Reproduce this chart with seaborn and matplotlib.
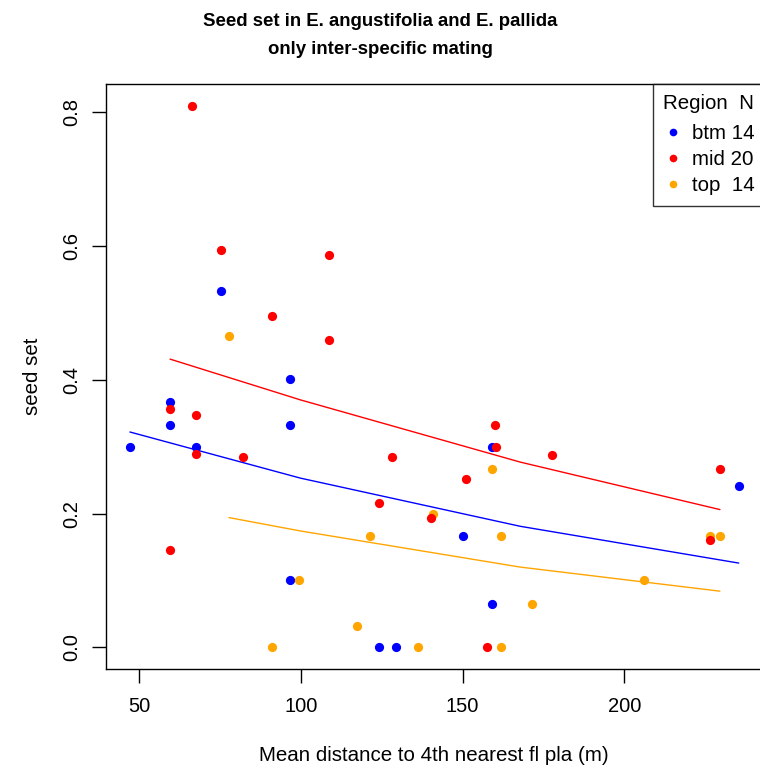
import numpy as np
import pandas as pd
import matplotlib
matplotlib.use("Agg")
import matplotlib.pyplot as plt
from matplotlib.lines import Line2D
import seaborn as sns

# ---- data ----
btm_x = [75.4, 96.6, 59.7, 59.7, 96.6, 47.2, 67.5, 96.6, 159.0, 150.1, 159.0, 124.2, 129.4, 235.3]
btm_y = [0.533, 0.402, 0.367, 0.332, 0.332, 0.300, 0.300, 0.100, 0.300, 0.166, 0.065, 0.0, 0.0, 0.241]

mid_x = [66.5, 75.4, 91.0, 108.6, 108.6, 59.7, 67.5, 67.5, 82.1, 59.7,
         160.0, 160.2, 128.3, 151.1, 124.2, 140.2, 157.4, 177.7, 229.5, 226.5]
mid_y = [0.810, 0.594, 0.496, 0.586, 0.460, 0.357, 0.347, 0.289, 0.284, 0.146,
         0.332, 0.300, 0.284, 0.252, 0.216, 0.194, 0.0, 0.287, 0.267, 0.161]

top_x = [77.9, 99.3, 91.0, 159.0, 140.9, 121.5, 162.0, 117.4, 136.1, 162.0, 226.5, 229.5, 206.1, 171.5]
top_y = [0.465, 0.100, 0.0, 0.267, 0.200, 0.166, 0.166, 0.032, 0.0, 0.0, 0.167, 0.166, 0.101, 0.065]

# fitted curves (read at a few x positions)
fit_btm_x = [47.2, 99.9, 167.8, 235.3]
fit_btm_y = [0.322, 0.253, 0.181, 0.126]
fit_mid_x = [59.6, 99.9, 167.8, 229.5]
fit_mid_y = [0.431, 0.370, 0.277, 0.206]
fit_top_x = [77.8, 99.9, 167.8, 229.5]
fit_top_y = [0.194, 0.174, 0.120, 0.084]

regions = ["btm", "mid", "top"]
counts = [14, 20, 14]
legend_labels = ["btm 14", "mid 20", "top  14"]
colors = {"btm": "#0000FF", "mid": "#FF0000", "top": "#FFA500"}

pts = pd.concat([
    pd.DataFrame({"x": btm_x, "y": btm_y, "Region": "btm"}),
    pd.DataFrame({"x": top_x, "y": top_y, "Region": "top"}),
    pd.DataFrame({"x": mid_x, "y": mid_y, "Region": "mid"}),
], ignore_index=True)
fits = pd.concat([
    pd.DataFrame({"x": fit_btm_x, "y": fit_btm_y, "Region": "btm"}),
    pd.DataFrame({"x": fit_mid_x, "y": fit_mid_y, "Region": "mid"}),
    pd.DataFrame({"x": fit_top_x, "y": fit_top_y, "Region": "top"}),
], ignore_index=True)

sns.set_theme(style="white")
plt.rcParams["font.family"] = ["Liberation Sans", "DejaVu Sans"]
plt.rcParams["text.color"] = "black"
plt.rcParams["axes.labelcolor"] = "black"
plt.rcParams["xtick.color"] = "black"
plt.rcParams["ytick.color"] = "black"

fig = plt.figure(figsize=(7.6, 7.72), dpi=100)
ax = fig.add_axes([106/760, 1 - 669/772, 656/760, 585/772])

sns.lineplot(data=fits, x="x", y="y", hue="Region", palette=colors,
             linewidth=1.0, legend=False, ax=ax, sort=True, estimator=None)
for r in ["btm", "top", "mid"]:
    sns.scatterplot(data=pts[pts.Region == r], x="x", y="y", color=colors[r],
                    s=44, linewidth=0, legend=False, ax=ax, zorder=3)

ax.set_xlim(39.8, 242.5)
ax.set_ylim(-0.0324, 0.8424)
ax.set_xticks([50, 100, 150, 200])
ax.set_yticks([0.0, 0.2, 0.4, 0.6, 0.8])
ax.set_yticklabels(["0.0", "0.2", "0.4", "0.6", "0.8"], rotation=90, va="center")
ax.tick_params(axis="both", which="major", direction="out", length=10, width=1,
               color="black", labelcolor="black", labelsize=14.5, left=True, bottom=True)
ax.tick_params(axis="y", pad=7.5)
ax.tick_params(axis="x", pad=10.5)
for s in ax.spines.values():
    s.set_color("black")
    s.set_linewidth(1.0)

ax.set_xlabel("Mean distance to 4th nearest fl pla (m)", fontsize=14.8, labelpad=21,
              color="black")
ax.set_ylabel("seed set", fontsize=14.8, labelpad=15, color="black")

fig.text(0.5, 1 - 22/772, "Seed set in E. angustifolia and E. pallida",
         ha="center", va="center", fontsize=13.4, fontweight="bold", color="black")
fig.text(0.5, 1 - 50/772, "only inter-specific mating",
         ha="center", va="center", fontsize=13.4, fontweight="bold", color="black")

handles = [Line2D([0], [0], marker="o", linestyle="none", markersize=5.5,
                  markerfacecolor=colors[r], markeredgewidth=0)
           for r in regions]
x0 = (652.7 - 106) / 656
leg = ax.legend(handles, legend_labels, title="Region  N", loc="upper left",
                bbox_to_anchor=(x0, 0.0, (770 - 652.7) / 656, 1.0), mode="expand",
                fontsize=14.8, title_fontsize=14.8, frameon=True, fancybox=False,
                borderaxespad=0, handletextpad=0.4, handlelength=1.0,
                labelspacing=0.34, borderpad=0.5)
leg._legend_box.align = "left"
leg._legend_box.sep = 8
leg.get_frame().set_edgecolor("black")
leg.get_frame().set_linewidth(1.0)

fig.savefig("out.png", dpi=100)
